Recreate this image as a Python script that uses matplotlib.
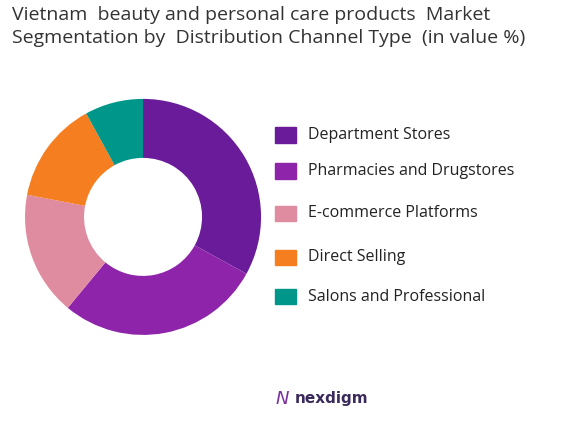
import matplotlib.pyplot as plt
from matplotlib.patches import Rectangle

labels = ["Department Stores", "Pharmacies and Drugstores", "E-commerce Platforms", "Direct Selling", "Salons and Professional"]
values = [33, 28, 17, 14, 8]
colors = ["#6A1B9A", "#8E24AA", "#E08CA0", "#F57F20", "#00968A"]

fig = plt.figure(figsize=(5.62, 4.22), dpi=100)
fig.patch.set_facecolor("white")
ax = fig.add_axes([-0.008, 0.136, 0.525, 0.70])
ax.pie(values, colors=colors, startangle=90, counterclock=False,
       wedgeprops=dict(width=0.5, edgecolor="none"), radius=1.0)
ax.set_aspect("equal")

fig.text(0.022, 0.985, "Vietnam  beauty and personal care products  Market\nSegmentation by  Distribution Channel Type  (in value %)",
         ha="left", va="top", fontsize=14, color="#333333", linespacing=1.3, family="Open Sans")

ys = [0.68, 0.595, 0.495, 0.39, 0.297]
for y, lab, c in zip(ys, labels, colors):
    fig.patches.append(Rectangle((0.49, y - 0.018), 0.036, 0.036, transform=fig.transFigure, color=c))
    fig.text(0.548, y, lab, ha="left", va="center", fontsize=11.5, color="#222222", family="Open Sans")

fig.text(0.525, 0.055, "nexdigm", ha="left", va="center", fontsize=11, color="#3a2a5a", weight="bold")
fig.text(0.49, 0.055, "N", ha="left", va="center", fontsize=13, color="#7B2FA0", style="italic")

fig.savefig("out.png", dpi=100, facecolor="white")
